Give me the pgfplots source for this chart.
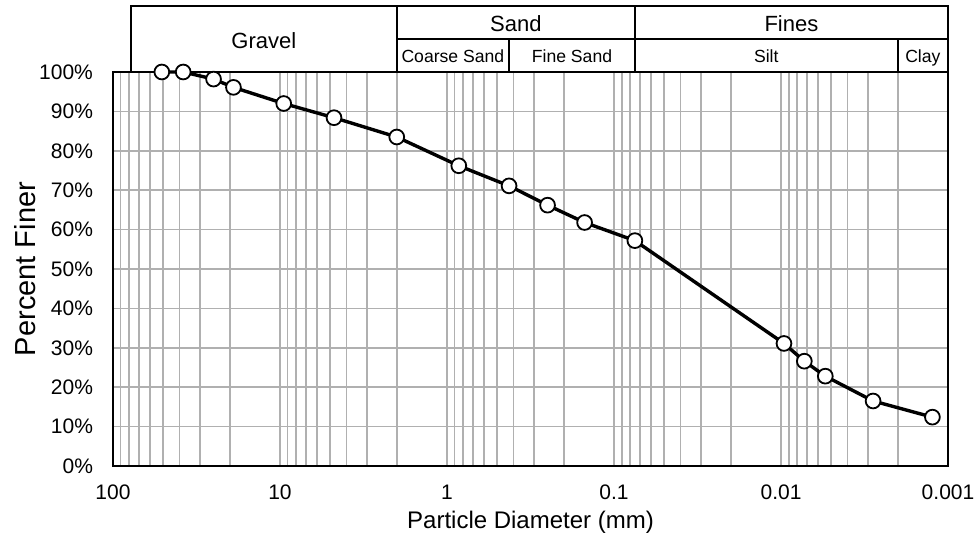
\documentclass[border=0pt]{standalone}
\usepackage{pgfplots}
\pgfplotsset{compat=1.18}
\usepackage{fontspec}
\setmainfont{Liberation Sans}

% Grain-size distribution data: particle diameter (mm), percent finer
\pgfplotstableread{
d        pf
51       100
38       100
25       98.2
19       96.1
9.5      92.0
4.75     88.4
2        83.5
0.85     76.2
0.425    71.1
0.25     66.2
0.15     61.8
0.075    57.2
0.0096   31.1
0.00725  26.6
0.00543  22.8
0.00281  16.5
0.00124  12.4
}\gradation

\begin{document}
\begin{tikzpicture}
\useasboundingbox (-56.5pt,-39pt) rectangle (432pt,233pt);
\begin{axis}[
  scale only axis, width=417.5pt, height=197pt,
  xmode=log, x dir=reverse, xmin=0.001, xmax=100,
  ymin=0, ymax=100,
  xtick={100,10,1,0.1,0.01,0.001},
  xticklabels={100,10,1,0.1,0.01,0.001},
  minor xtick={0.002,0.003,0.004,0.005,0.006,0.007,0.008,0.009,
               0.02,0.03,0.04,0.05,0.06,0.07,0.08,0.09,
               0.2,0.3,0.4,0.5,0.6,0.7,0.8,0.9,
               2,3,4,5,6,7,8,9,20,30,40,50,60,70,80,90},
  ytick={0,10,20,30,40,50,60,70,80,90,100},
  yticklabels={0\%,10\%,20\%,30\%,40\%,50\%,60\%,70\%,80\%,90\%,100\%},
  grid=both,
  major grid style={draw=gray!62, line width=0.85pt},
  minor grid style={draw=gray!62, line width=0.85pt},
  major tick length=0pt, minor tick length=0pt,
  axis line style={black, line width=1pt},
  tick label style={font=\fontsize{10.5}{12}\selectfont},
  xticklabel style={yshift=-6pt},
  yticklabel style={xshift=-6.5pt},
  xlabel={Particle Diameter (mm)},
  ylabel={Percent Finer},
  xlabel style={font=\fontsize{12}{14}\selectfont,
                at={(axis description cs:0.5,-0.142)}, anchor=center},
  ylabel style={font=\fontsize{14.5}{16}\selectfont,
                at={(axis description cs:-0.1054,0.5)}, anchor=center},
  clip=false,
]
% soil classification header
\draw[black, line width=1pt]
  (axis cs:78,100) -- (axis cs:78,116.75) -- (axis cs:0.001,116.75) -- (axis cs:0.001,100)
  (axis cs:2,100) -- (axis cs:2,116.75)
  (axis cs:0.075,100) -- (axis cs:0.075,116.75)
  (axis cs:2,108.4) -- (axis cs:0.001,108.4)
  (axis cs:0.425,100) -- (axis cs:0.425,108.4)
  (axis cs:0.002,100) -- (axis cs:0.002,108.4);
\begin{scope}[every node/.style={anchor=base, inner sep=0pt}]
\node[font=\fontsize{11}{13}\selectfont] at (axis cs:12.49,106.0) {Gravel};
\node[font=\fontsize{11}{13}\selectfont] at (axis cs:0.387,110.3) {Sand};
\node[font=\fontsize{11}{13}\selectfont] at (axis cs:0.00866,110.3) {Fines};
\node[font=\fontsize{8.8}{10}\selectfont] at (axis cs:0.922,102.5) {Coarse Sand};
\node[font=\fontsize{8.8}{10}\selectfont] at (axis cs:0.1785,102.5) {Fine Sand};
\node[font=\fontsize{8.8}{10}\selectfont] at (axis cs:0.01225,102.5) {Silt};
\node[font=\fontsize{8.8}{10}\selectfont] at (axis cs:0.001414,102.5) {Clay};
\end{scope}

\addplot[black, line width=1.7pt, mark=*, mark size=3.7pt,
  mark options={fill=white, draw=black, line width=0.9pt}]
  table[x=d, y=pf] {\gradation};
\end{axis}
\end{tikzpicture}
\end{document}
